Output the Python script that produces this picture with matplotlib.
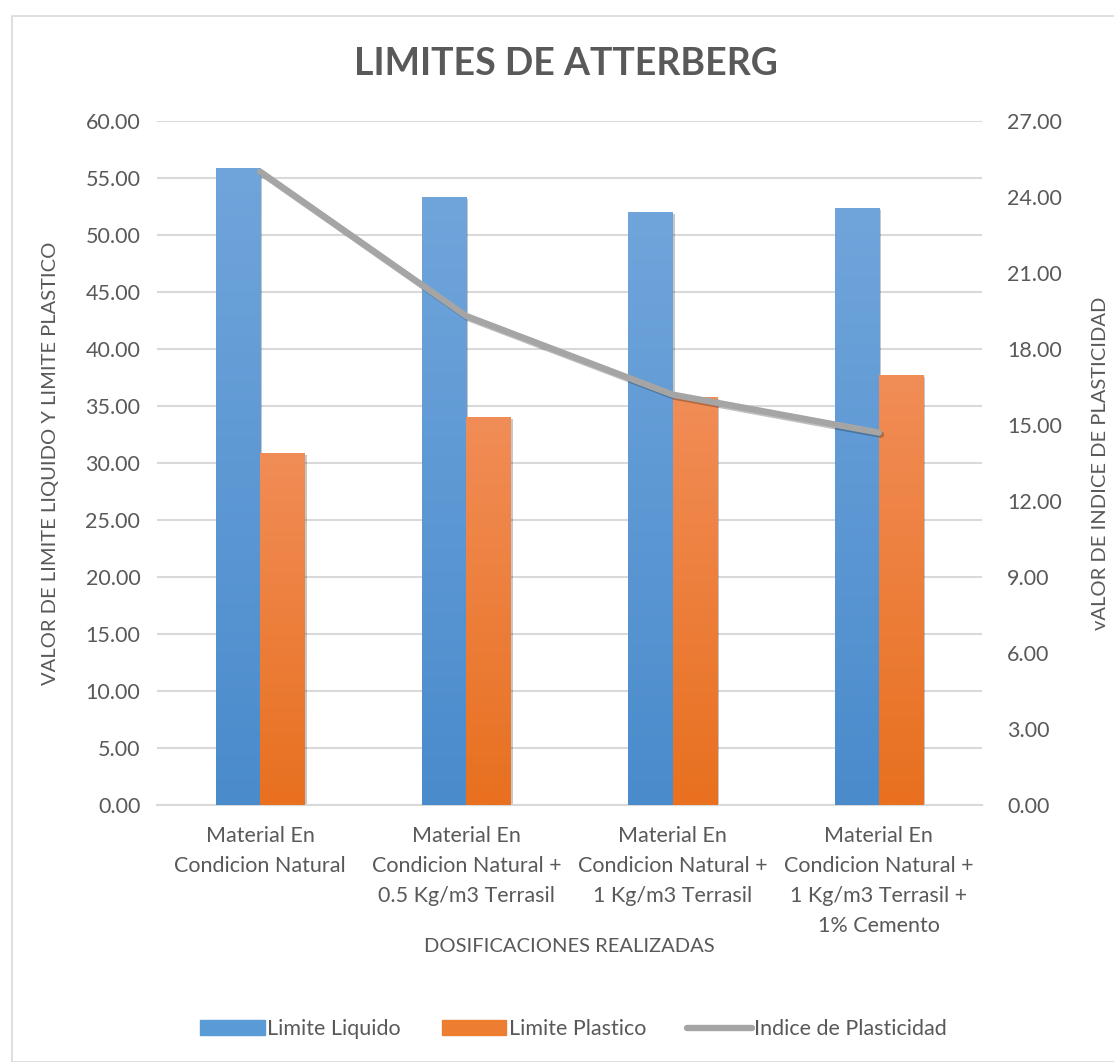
import numpy as np
import matplotlib.pyplot as plt
import matplotlib.patheffects as pe
from matplotlib.patches import Rectangle
from matplotlib.colors import LinearSegmentedColormap
from matplotlib.lines import Line2D

plt.rcParams['font.family'] = ['Lato', 'DejaVu Sans']

categorias = ['Material En\nCondicion Natural',
              'Material En\nCondicion Natural +\n0.5 Kg/m3 Terrasil',
              'Material En\nCondicion Natural +\n1 Kg/m3 Terrasil',
              'Material En\nCondicion Natural +\n1 Kg/m3 Terrasil +\n1% Cemento']
limite_liquido = [55.9, 53.3, 52.0, 52.4]
limite_plastico = [30.9, 34.0, 35.8, 37.7]
indice_plasticidad = [25.0, 19.3, 16.2, 14.7]

gris = '#595959'
azul = ('#70a5db', '#4a8bcc')
naranja = ('#f18d57', '#e8701f')

fig = plt.figure(figsize=(11.14, 10.62), dpi=100)
fig.patches.append(Rectangle((12 / 1114, 0), 1.2, 1 - 16 / 1062,
                             transform=fig.transFigure, fill=False,
                             edgecolor='#d9d9d9', linewidth=1.2))
ax = fig.add_axes([157 / 1114, 1 - 805 / 1062, 825 / 1114, 684 / 1062])
ax2 = ax.twinx()

x = np.arange(len(categorias))
w = 0.215


def barras_degradado(xs, vals, colores):
    cmap = LinearSegmentedColormap.from_list('g', [colores[1], colores[0]])
    grad = np.linspace(0, 1, 256).reshape(-1, 1)
    barras = ax.bar(xs, vals, w, color=colores[1], zorder=2)
    for b in barras:
        b.set_path_effects([pe.SimplePatchShadow(offset=(1.5, -1.5), shadow_rgbFace='black',
                                                 alpha=0.22), pe.Normal()])
        bx, by = b.get_x(), b.get_height()
        im = ax.imshow(grad, cmap=cmap, origin='lower', aspect='auto',
                       extent=(bx, bx + w, 0, by), zorder=3)
        im.set_clip_path(b)
    return barras


barras_degradado(x - w / 2, limite_liquido, azul)
barras_degradado(x + w / 2, limite_plastico, naranja)

ax2.plot(x, indice_plasticidad, color='#a5a5a5', lw=4.6, solid_capstyle='round',
         solid_joinstyle='round', zorder=4,
         path_effects=[pe.SimpleLineShadow(offset=(1.5, -1.5), alpha=0.25), pe.Normal()])

ax.set_xlim(-0.5, 3.5)
ax.set_ylim(0, 60)
ax2.set_ylim(0, 27)
ax.set_yticks(np.arange(0, 60.1, 5))
ax2.set_yticks(np.arange(0, 27.1, 3))
ax.set_yticklabels([f'{v:.2f}' for v in np.arange(0, 60.1, 5)])
ax2.set_yticklabels([f'{v:.2f}' for v in np.arange(0, 27.1, 3)])
ax.set_xticks(x)
ax.set_xticklabels(categorias, linespacing=1.62)

ax.grid(axis='y', color='#d9d9d9', lw=1.5, zorder=0)
ax.set_axisbelow(True)
for a in (ax, ax2):
    for s in a.spines.values():
        s.set_visible(False)
    a.tick_params(length=0, labelsize=15.5, labelcolor=gris)
ax.spines['bottom'].set_visible(True)
ax.spines['bottom'].set_color('#d9d9d9')
ax.spines['bottom'].set_linewidth(1.5)
ax.tick_params(axis='y', pad=12)
ax.tick_params(axis='x', pad=15)
ax2.tick_params(axis='y', pad=18)

ax.set_ylabel('VALOR DE LIMITE LIQUIDO Y LIMITE PLASTICO', fontsize=14.5, color=gris, labelpad=19)
ax2.set_ylabel('vALOR DE INDICE DE PLASTICIDAD', fontsize=14.5, color=gris, labelpad=22)
ax.set_xlabel('DOSIFICACIONES REALIZADAS', fontsize=14.5, color=gris, labelpad=2)

fig.text(0.508, 1 - 64 / 1062, 'LIMITES DE ATTERBERG', ha='center', va='center',
         fontsize=27, fontweight='bold', color=gris)

handles = [Rectangle((0, 0), 1, 1, color='#5b9bd5'),
           Rectangle((0, 0), 1, 1, color='#ed7d31'),
           Line2D([0], [0], color='#a5a5a5', lw=4.6, solid_capstyle='round')]
fig.legend(handles, ['Limite Liquido', 'Limite Plastico', 'Indice de Plasticidad'],
           loc='center', bbox_to_anchor=(0.515, 1 - 1029 / 1062), ncol=3, frameon=False,
           fontsize=15.5, labelcolor=gris, handlelength=3.0, handleheight=0.65,
           handletextpad=0.12, columnspacing=1.9)

fig.savefig('out.png', dpi=100)
